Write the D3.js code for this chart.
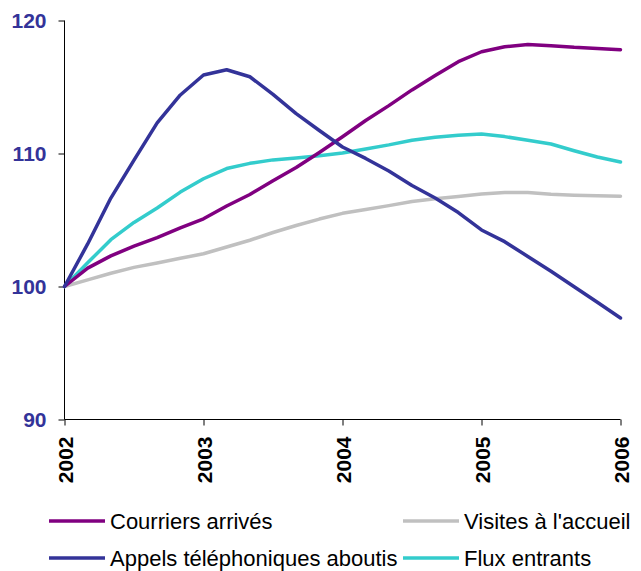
<!DOCTYPE html>
<html><head><meta charset="utf-8">
<script src="https://cdn.jsdelivr.net/npm/d3@7"></script>
<style>body{margin:0;background:#fff}svg{display:block}</style>
</head><body>
<script>
// Months since January 2002 (every two months)
const months = [0,2,4,6,8,10,12,14,16,18,20,22,24,26,28,30,32,34,36,38,40,42,44,46,48];
const yearTicks = [2002,2003,2004,2005,2006];
const yTicks = [90,100,110,120];
const seriesNames = ["Courriers arrivés","Visites à l'accueil","Appels téléphoniques aboutis","Flux entrants"];
const seriesColors = ["#800080","#C0C0C0","#333399","#33CCCC"];
const courriers = [100,101.38,102.3,103.03,103.68,104.41,105.09,106.05,106.92,107.95,108.95,110.08,111.26,112.48,113.6,114.78,115.86,116.9,117.65,118.02,118.2,118.1,117.98,117.9,117.8];
const visites = [100,100.5,101.0,101.44,101.77,102.12,102.46,102.97,103.48,104.06,104.59,105.07,105.5,105.79,106.08,106.39,106.59,106.77,106.95,107.07,107.07,106.93,106.87,106.83,106.79];
const appels = [100,103.2,106.65,109.5,112.3,114.4,115.9,116.3,115.77,114.45,113.0,111.73,110.49,109.63,108.69,107.6,106.65,105.56,104.25,103.37,102.26,101.15,99.98,98.82,97.63];
const flux = [100,101.78,103.52,104.82,105.9,107.1,108.1,108.87,109.26,109.52,109.66,109.83,110.04,110.34,110.65,111.0,111.23,111.38,111.47,111.27,111.0,110.71,110.21,109.74,109.36];
const seriesValues = [courriers, visites, appels, flux];

const W = 641, H = 571;
const FONT = "Liberation Sans, Arial, sans-serif";
const svg = d3.select("body").append("svg").attr("width", W).attr("height", H);
const x = d3.scaleLinear().domain([2002, 2006]).range([64.5, 620.5]);
const y = d3.scaleLinear().domain([90, 120]).range([419.5, 20.5]);

// Y axis
const yAxis = svg.append("g").attr("transform", "translate(64.5,0)")
  .call(d3.axisLeft(y).tickValues(yTicks).tickSize(6).tickPadding(12).tickFormat(d3.format("d")));
yAxis.select(".domain").attr("stroke", "#000").attr("d", `M0,${y(120)}V${y(90)}`);
yAxis.selectAll(".tick line").attr("stroke", "#000");
yAxis.selectAll("text").attr("fill", "#333399").attr("font-family", FONT)
  .attr("font-size", 21).attr("font-weight", "bold").attr("dy", "0.35em");

// X axis
const xAxis = svg.append("g").attr("transform", `translate(0,${y(90)})`)
  .call(d3.axisBottom(x).tickValues(yearTicks).tickSize(6).tickFormat(d3.format("d")));
xAxis.select(".domain").attr("stroke", "#000").attr("d", `M${x(2002)},0H${x(2006)}`);
xAxis.selectAll(".tick line").attr("stroke", "#000");
xAxis.selectAll("text").attr("fill", "#000").attr("font-family", FONT)
  .attr("font-size", 21).attr("font-weight", "bold")
  .attr("transform", "rotate(-90)").attr("text-anchor", "end")
  .attr("x", -17).attr("y", 0).attr("dy", "0.36em");

// Lines
const line = d3.line().x((d, i) => x(2002 + months[i] / 12)).y(d => y(d));
const order = [1, 3, 0, 2];
order.forEach(k => {
  svg.append("path").datum(seriesValues[k]).attr("d", line)
    .attr("fill", "none").attr("stroke", seriesColors[k]).attr("stroke-width", 3.5)
    .attr("stroke-linejoin", "round").attr("stroke-linecap", "round");
});

// Legend
const legendPos = [[49, 521], [403, 521], [49, 558], [403, 558]];
seriesNames.forEach((name, k) => {
  const [lx, ly] = legendPos[k];
  svg.append("line").attr("x1", lx).attr("x2", lx + 56).attr("y1", ly).attr("y2", ly)
    .attr("stroke", seriesColors[k]).attr("stroke-width", 3.5);
  svg.append("text").attr("x", lx + 61).attr("y", ly).attr("dy", "0.35em")
    .attr("font-family", FONT).attr("font-size", 22)
    .attr("fill", "#000").text(name);
});
</script>
</body></html>
